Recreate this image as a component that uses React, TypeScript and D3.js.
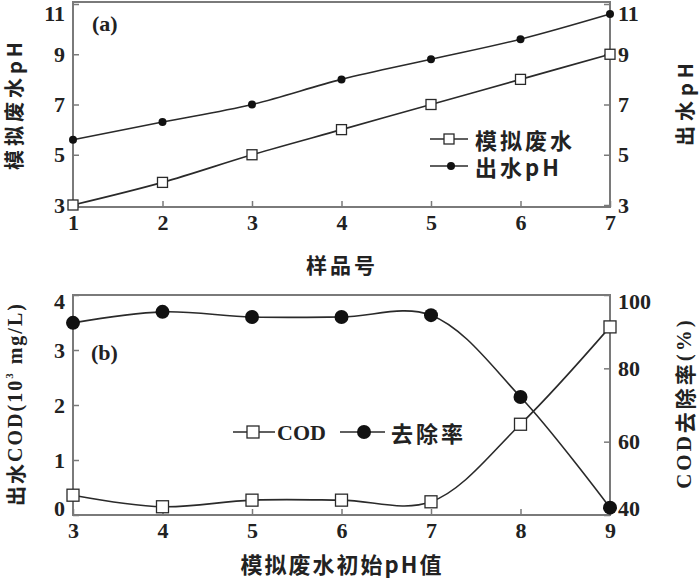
import React, { useEffect, useRef } from 'react';
import * as d3 from 'd3';

// panel (a)
const samples = [1, 2, 3, 4, 5, 6, 7];
const simWaterPH = [3, 3.9, 5, 6, 7, 8, 9];
const effluentPH = [5.6, 6.3, 7.0, 8.0, 8.8, 9.6, 10.6];
const phTicks = [3, 5, 7, 9, 11];

// panel (b)
const initialPH = [3, 4, 5, 6, 7, 8, 9];
const codValues = [0.36, 0.15, 0.27, 0.27, 0.24, 1.65, 3.42];
const removalRate = [92.4, 95.4, 94, 94, 94.5, 72.2, 42];
const codTicks = [0, 1, 2, 3, 4];
const rateTicks = [40, 60, 80, 100];

const NUM_FONT = '"Liberation Serif", "Times New Roman", serif';
const CJK_FONT = '"Noto Sans CJK SC", sans-serif';
const AXIS = '#7a7a7a';
const LINE = '#2a2a2a';
const INK = '#222';

export default function App() {
  const ref = useRef<SVGSVGElement>(null);

  useEffect(() => {
    const svg = d3.select(ref.current);
    svg.selectAll('*').remove();

    const left = 73;
    const right = 610;

    const frame = (top: number, bottom: number) => {
      svg
        .append('rect')
        .attr('x', left)
        .attr('y', top)
        .attr('width', right - left)
        .attr('height', bottom - top)
        .attr('fill', 'none')
        .attr('stroke', AXIS)
        .attr('stroke-width', 2);
    };

    const drawAxes = (
      x: d3.ScaleLinear<number, number>,
      yL: d3.ScaleLinear<number, number>,
      yR: d3.ScaleLinear<number, number>,
      xTicks: number[],
      lTicks: number[],
      rTicks: number[],
      bottom: number
    ) => {
      const bx = svg
        .append('g')
        .attr('transform', `translate(0,${bottom})`)
        .call(d3.axisBottom(x).tickValues(xTicks).tickSizeInner(-6).tickSizeOuter(0).tickFormat(d3.format('d')));
      const ly = svg
        .append('g')
        .attr('transform', `translate(${left},0)`)
        .call(d3.axisLeft(yL).tickValues(lTicks).tickSizeInner(-6).tickSizeOuter(0).tickFormat(d3.format('d')));
      const ry = svg
        .append('g')
        .attr('transform', `translate(${right},0)`)
        .call(d3.axisRight(yR).tickValues(rTicks).tickSizeInner(-6).tickSizeOuter(0).tickFormat(d3.format('d')));
      [bx, ly, ry].forEach(g => {
        g.select('.domain').remove();
        g.selectAll('line').attr('stroke', AXIS).attr('stroke-width', 1.5);
        g.selectAll('text')
          .attr('font-family', NUM_FONT)
          .attr('font-size', 22)
          .attr('font-weight', 'bold')
          .attr('fill', INK);
      });
      bx.selectAll('text').attr('dy', '0.9em');
      ly.selectAll('text').attr('x', -8);
      ry.selectAll('text').attr('x', 8);
      return { bx, ly, ry };
    };

    const label = (
      txt: string,
      x: number,
      y: number,
      opts: { rot?: number; size?: number; spacing?: number; anchor?: string; font?: string } = {}
    ) => {
      const { rot = 0, size = 22, spacing = 3, anchor = 'middle', font = CJK_FONT } = opts;
      return svg
        .append('text')
        .attr('transform', `translate(${x},${y}) rotate(${rot})`)
        .attr('text-anchor', anchor)
        .attr('dominant-baseline', 'central')
        .attr('font-family', font)
        .attr('font-size', size)
        .attr('font-weight', 'bold')
        .attr('letter-spacing', spacing)
        .attr('fill', INK)
        .text(txt);
    };

    const curve = d3.curveCatmullRom.alpha(0.5);

    // ---------- panel (a) ----------
    const xa = d3.scaleLinear().domain([1, 7]).range([left, right]);
    const ya = d3.scaleLinear().domain([3, 11]).range([205, 4]);
    frame(2, 207);
    const a = drawAxes(xa, ya, ya, samples, phTicks, phTicks, 207);
    a.ly.selectAll('text').filter((d: any) => d === 11).attr('dy', '0.75em');
    a.ry.selectAll('text').filter((d: any) => d === 11).attr('dy', '0.75em');

    const lineA = d3
      .line<number>()
      .x((_, i) => xa(samples[i]))
      .y(d => ya(d))
      .curve(curve);

    svg.append('path').attr('d', lineA(effluentPH)).attr('fill', 'none').attr('stroke', LINE).attr('stroke-width', 1.6);
    svg.append('path').attr('d', lineA(simWaterPH)).attr('fill', 'none').attr('stroke', LINE).attr('stroke-width', 1.6);

    svg
      .selectAll('.pa')
      .data(effluentPH)
      .enter()
      .append('circle')
      .attr('cx', (_, i) => xa(samples[i]))
      .attr('cy', d => ya(d))
      .attr('r', 4)
      .attr('fill', '#111');
    svg
      .selectAll('.sa')
      .data(simWaterPH)
      .enter()
      .append('rect')
      .attr('x', (_, i) => xa(samples[i]) - 5)
      .attr('y', d => ya(d) - 5)
      .attr('width', 10)
      .attr('height', 10)
      .attr('fill', '#fff')
      .attr('stroke', LINE)
      .attr('stroke-width', 1.3);

    label('(a)', 92, 23, { anchor: 'start', font: NUM_FONT, spacing: 0 });

    // legend (a)
    svg.append('line').attr('x1', 430).attr('x2', 468).attr('y1', 139).attr('y2', 139).attr('stroke', LINE).attr('stroke-width', 1.5);
    svg.append('rect').attr('x', 444).attr('y', 134).attr('width', 10).attr('height', 10).attr('fill', '#fff').attr('stroke', LINE).attr('stroke-width', 1.3);
    label('模拟废水', 475, 139, { anchor: 'start' });
    svg.append('line').attr('x1', 430).attr('x2', 468).attr('y1', 166).attr('y2', 166).attr('stroke', LINE).attr('stroke-width', 1.5);
    svg.append('circle').attr('cx', 451).attr('cy', 166).attr('r', 4).attr('fill', '#111');
    label('出水pH', 475, 166, { anchor: 'start' });

    label('样品号', 342, 264, { size: 21 });
    label('模拟废水pH', 13, 104, { rot: -90, size: 20, spacing: 4 });
    label('出水pH', 684, 102, { rot: -90, size: 20, spacing: 5 });

    // ---------- panel (b) ----------
    const xb = d3.scaleLinear().domain([3, 9]).range([left, right]);
    const yb = d3.scaleLinear().domain([0, 4]).range([515, 295]);
    const yr = d3.scaleLinear().domain([40, 100]).range([515, 295]);
    frame(295, 515);
    const b = drawAxes(xb, yb, yr, initialPH, codTicks, rateTicks, 515);
    b.ly.selectAll('text').filter((d: any) => d === 4).attr('dy', '0.6em');
    b.ly.selectAll('text').filter((d: any) => d === 0).attr('dy', '0');
    b.ry.selectAll('text').filter((d: any) => d === 100).attr('dy', '0.6em');
    b.ry.selectAll('text').filter((d: any) => d === 40).attr('dy', '0');

    const lineCod = d3
      .line<number>()
      .x((_, i) => xb(initialPH[i]))
      .y(d => yb(d))
      .curve(curve);
    const lineRate = d3
      .line<number>()
      .x((_, i) => xb(initialPH[i]))
      .y(d => yr(d))
      .curve(curve);

    svg.append('path').attr('d', lineRate(removalRate)).attr('fill', 'none').attr('stroke', LINE).attr('stroke-width', 1.6);
    svg.append('path').attr('d', lineCod(codValues)).attr('fill', 'none').attr('stroke', LINE).attr('stroke-width', 1.6);

    svg
      .selectAll('.rb')
      .data(removalRate)
      .enter()
      .append('circle')
      .attr('cx', (_, i) => xb(initialPH[i]))
      .attr('cy', d => yr(d))
      .attr('r', 7)
      .attr('fill', '#111');
    svg
      .selectAll('.cb')
      .data(codValues)
      .enter()
      .append('rect')
      .attr('x', (_, i) => xb(initialPH[i]) - 6)
      .attr('y', d => yb(d) - 6)
      .attr('width', 12)
      .attr('height', 12)
      .attr('fill', '#fff')
      .attr('stroke', LINE)
      .attr('stroke-width', 1.3);

    label('(b)', 91, 352, { anchor: 'start', font: NUM_FONT, spacing: 0 });

    // legend (b)
    svg.append('line').attr('x1', 233).attr('x2', 275).attr('y1', 432).attr('y2', 432).attr('stroke', LINE).attr('stroke-width', 1.5);
    svg.append('rect').attr('x', 247).attr('y', 426).attr('width', 12).attr('height', 12).attr('fill', '#fff').attr('stroke', LINE).attr('stroke-width', 1.3);
    label('COD', 277, 432, { anchor: 'start', font: NUM_FONT, spacing: 0 });
    svg.append('line').attr('x1', 340).attr('x2', 385).attr('y1', 432).attr('y2', 432).attr('stroke', LINE).attr('stroke-width', 1.5);
    svg.append('circle').attr('cx', 364).attr('cy', 432).attr('r', 7).attr('fill', '#111');
    label('去除率', 391, 432, { anchor: 'start' });

    label('模拟废水初始pH值', 342, 563, { size: 22, spacing: 2 });

    // left title with superscript
    const lt = label('', 15, 404, { rot: -90, size: 20, spacing: 2, font: NUM_FONT });
    lt.append('tspan').attr('font-family', CJK_FONT).text('出水');
    lt.append('tspan').text('COD(10');
    lt.append('tspan').attr('font-size', 11).attr('dy', -6).text('3');
    lt.append('tspan').attr('dy', 6).text(' mg/L)');

    const rt = label('', 684, 403, { rot: -90, size: 21, spacing: 3, font: NUM_FONT });
    rt.append('tspan').text('COD');
    rt.append('tspan').attr('font-family', CJK_FONT).text('去除率');
    rt.append('tspan').text('(%)');
  }, []);

  return (
    <svg
      ref={ref}
      width={700}
      height={582}
      style={{ position: 'absolute', left: 0, top: 0, background: '#fff' }}
    />
  );
}
